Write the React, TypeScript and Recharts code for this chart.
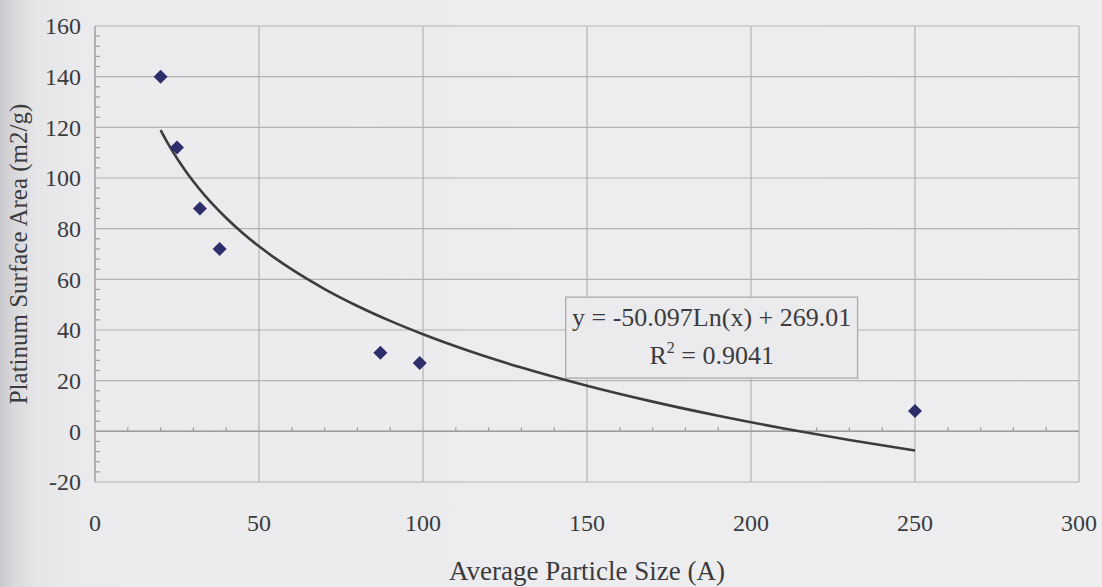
import React from 'react';
import {
  ComposedChart,
  XAxis,
  YAxis,
  CartesianGrid,
  Scatter,
  Line,
  ReferenceLine,
  ReferenceArea,
} from 'recharts';

// Measured particle size (Å) vs platinum surface area (m2/g)
const particleSize = [20, 25, 32, 38, 87, 99, 250];
const surfaceArea = [140, 112, 88, 72, 31, 27, 8];

// Logarithmic trendline coefficients: y = a·ln(x) + b
const trendA = -50.097;
const trendB = 269.01;
const trendR2 = 0.9041;
const trendX = [20, 22, 24, 26, 28, 30, 33, 36, 40, 45, 50, 55, 60, 70, 80, 90, 100, 115, 130, 150, 170, 190, 210, 230, 250];

const xTicks = [0, 50, 100, 150, 200, 250, 300];
const yTicks = [-20, 0, 20, 40, 60, 80, 100, 120, 140, 160];
const xMinorTicks = [10, 20, 30, 40, 60, 70, 80, 90, 110, 120, 130, 140, 160, 170, 180, 190, 210, 220, 230, 240, 260, 270, 280, 290];
const yMinorTicks = [-16, -12, -8, -4, 4, 8, 12, 16, 24, 28, 32, 36, 44, 48, 52, 56, 64, 68, 72, 76, 84, 88, 92, 96, 104, 108, 112, 116, 124, 128, 132, 136, 144, 148, 152, 156];

const points = particleSize.map((x, i) => ({ x, y: surfaceArea[i] }));
const trend = trendX.map((x) => ({ x, t: trendA * Math.log(x) + trendB }));

const FONT = '"Liberation Serif", "Times New Roman", serif';
const TEXT = '#3b3b3d';
const GRID = '#b3b3b6';
const PAPER = '#ebebed';

const Diamond = (props: any) => {
  const { cx, cy } = props;
  const r = 7;
  return (
    <polygon
      points={`${cx},${cy - r} ${cx + r},${cy} ${cx},${cy + r} ${cx - r},${cy}`}
      fill="#2f2e6c"
    />
  );
};

const XTick = (props: any) => {
  const { x, y, payload } = props;
  return (
    <text x={x} y={y + 49} textAnchor="middle" fontFamily={FONT} fontSize={24} fill={TEXT}>
      {payload.value}
    </text>
  );
};

const YTick = (props: any) => {
  const { x, y, payload } = props;
  return (
    <text x={x - 14} y={y} dy="0.35em" textAnchor="end" fontFamily={FONT} fontSize={24} fill={TEXT}>
      {payload.value}
    </text>
  );
};

const EquationLabel = (props: any) => {
  const vb = props.viewBox || {};
  const cx = vb.x + vb.width / 2;
  return (
    <g fontFamily={FONT} fontSize={26} fill={TEXT}>
      <text x={cx} y={vb.y + 29} textAnchor="middle">
        {`y = ${trendA}Ln(x) + ${trendB}`}
      </text>
      <text x={cx} y={vb.y + 67} textAnchor="middle">
        <tspan>R</tspan>
        <tspan dy={-11} fontSize={16}>2</tspan>
        <tspan dy={11}>{` = ${trendR2}`}</tspan>
      </text>
    </g>
  );
};

const YTitle = (props: any) => {
  const vb = props.viewBox || {};
  const cy = vb.y + vb.height / 2;
  return (
    <text
      x={18}
      y={cy}
      transform={`rotate(-90 18 ${cy})`}
      dy="0.35em"
      textAnchor="middle"
      fontFamily={FONT}
      fontSize={25}
      fill={TEXT}
    >
      Platinum Surface Area (m2/g)
    </text>
  );
};

export default function App() {
  return (
    <div
      style={{
        position: 'absolute',
        left: 0,
        top: 0,
        width: 1102,
        height: 587,
        background: `linear-gradient(to right, #c8c7cb 0px, #d9d8dc 14px, #e6e6e8 36px, ${PAPER} 90px, #eeeef0 100%)`,
      }}
    >
      <ComposedChart
        width={1102}
        height={587}
        margin={{ top: 26, right: 23, left: 0, bottom: 0 }}
      >
        <CartesianGrid stroke={GRID} strokeWidth={1.2} />
        <XAxis
          type="number"
          dataKey="x"
          domain={[0, 300]}
          ticks={xTicks}
          interval={0}
          height={105}
          axisLine={false}
          tickLine={false}
          tickSize={0}
          tickMargin={0}
          tick={<XTick />}
          allowDataOverflow
          label={{
            value: 'Average Particle Size (A)',
            position: 'insideBottom',
            offset: 7,
            fontFamily: FONT,
            fontSize: 27,
            fill: TEXT,
          }}
        />
        <YAxis
          type="number"
          domain={[-20, 160]}
          ticks={yTicks}
          interval={0}
          width={95}
          axisLine={false}
          tickLine={false}
          tickSize={0}
          tickMargin={0}
          tick={<YTick />}
          allowDataOverflow
          label={<YTitle />}
        />
        <ReferenceLine y={0} stroke="#9c9ca0" strokeWidth={1.5} />
        <ReferenceLine x={0} stroke="#a6a6aa" strokeWidth={1.3} />
        {xMinorTicks.map((v) => (
          <ReferenceLine
            key={`xm${v}`}
            segment={[{ x: v, y: 0 }, { x: v, y: 1.6 }]}
            stroke="#9c9ca0"
            strokeWidth={1.2}
          />
        ))}
        {yMinorTicks.map((v) => (
          <ReferenceLine
            key={`ym${v}`}
            segment={[{ x: 0, y: v }, { x: 1.5, y: v }]}
            stroke="#9c9ca0"
            strokeWidth={1.2}
          />
        ))}
        <ReferenceArea
          x1={143.5}
          x2={232.5}
          y1={21}
          y2={53}
          fill={PAPER}
          fillOpacity={1}
          stroke="#a9a9ad"
          strokeWidth={1.3}
          label={<EquationLabel />}
        />
        <Line
          data={trend}
          dataKey="t"
          type="monotone"
          stroke="#3c3c3e"
          strokeWidth={2.6}
          dot={false}
          activeDot={false}
          isAnimationActive={false}
        />
        <Scatter
          data={points}
          dataKey="y"
          shape={<Diamond />}
          isAnimationActive={false}
        />
      </ComposedChart>
    </div>
  );
}
